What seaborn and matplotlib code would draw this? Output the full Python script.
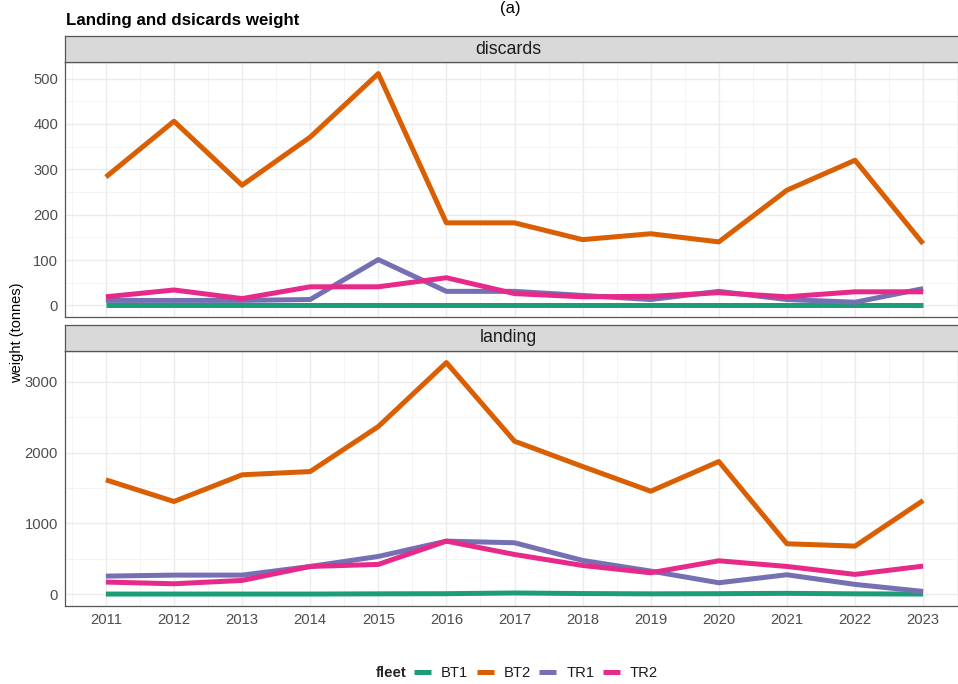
import numpy as np
import pandas as pd
import matplotlib
matplotlib.use("Agg")
import matplotlib.pyplot as plt
from matplotlib.lines import Line2D
import seaborn as sns

# ---- data -------------------------------------------------------------
years = list(range(2011, 2024))
fleets = ["BT1", "BT2", "TR1", "TR2"]

discards_bt1 = [1, 1, 1, 1, 1, 1, 1, 1, 1, 1, 1, 1, 1]
discards_bt2 = [283, 406, 265, 371, 511, 182, 182, 145, 158, 140, 254, 320, 136]
discards_tr1 = [11, 11, 11, 13, 101, 31, 31, 22, 13, 31, 13, 7, 37]
discards_tr2 = [19, 34, 15, 41, 41, 61, 26, 19, 20, 28, 19, 30, 30]

landing_bt1 = [5, 5, 5, 5, 8, 10, 20, 12, 8, 10, 15, 8, 5]
landing_bt2 = [1615, 1310, 1686, 1732, 2366, 3268, 2160, 1803, 1455, 1873, 714, 681, 1324]
landing_tr1 = [258, 272, 272, 394, 535, 751, 728, 479, 329, 164, 277, 141, 42]
landing_tr2 = [174, 150, 197, 394, 423, 751, 563, 408, 305, 474, 394, 282, 399]

facets = ["discards", "landing"]
y_ticks = {"discards": [0, 100, 200, 300, 400, 500],
           "landing": [0, 1000, 2000, 3000]}

palette = {"BT1": "#1B9E77", "BT2": "#D95F02", "TR1": "#7570B3", "TR2": "#E7298A"}

series = {
    "discards": [discards_bt1, discards_bt2, discards_tr1, discards_tr2],
    "landing": [landing_bt1, landing_bt2, landing_tr1, landing_tr2],
}
rows = []
for cat in facets:
    for fl, vals in zip(fleets, series[cat]):
        for yr, v in zip(years, vals):
            rows.append({"catch": cat, "fleet": fl, "year": yr, "weight": v})
df = pd.DataFrame(rows)

# ---- figure -----------------------------------------------------------
sns.set_style("white")
plt.rcParams["font.family"] = ["Liberation Sans", "DejaVu Sans"]

W, H = 958, 684
fig = plt.figure(figsize=(W / 100, H / 100), dpi=100)

def fx(px):
    return px / W

def fy(py):
    return 1 - py / H

# panels run past the right edge of the canvas
left_px, right_px = 65, 964
panels = {"discards": (62, 317, 36), "landing": (351, 606, 325)}
label_centre = (508 - left_px) / (right_px - left_px)

for cat in facets:
    top, bot, strip_top = panels[cat]
    ax = fig.add_axes([fx(left_px), fy(bot), fx(right_px - left_px), (bot - top) / H])
    sub = df[df["catch"] == cat]
    sns.lineplot(data=sub, x="year", y="weight", hue="fleet", hue_order=fleets,
                 palette=palette, linewidth=3.6, ax=ax, legend=False,
                 solid_capstyle="butt", solid_joinstyle="round")
    vmax = sub["weight"].max()
    ax.set_xlim(2010.4, 2023.6)
    ax.set_ylim(-0.05 * vmax, 1.05 * vmax)
    ax.set_xticks(years)
    ax.set_xticks(np.arange(2010.5, 2024, 1.0), minor=True)
    yt = y_ticks[cat]
    step = yt[1] - yt[0]
    ax.set_yticks(yt)
    ax.set_yticks(np.arange(-step / 2, 1.05 * vmax, step)[1:], minor=True)
    ax.grid(True, which="major", color="#EBEBEB", linewidth=1.0)
    ax.grid(True, which="minor", color="#F3F3F3", linewidth=0.6)
    ax.set_axisbelow(True)
    ax.set_xlabel("")
    ax.set_ylabel("")
    for s in ax.spines.values():
        s.set_color("#555555")
        s.set_linewidth(0.9)
    ax.tick_params(axis="both", which="major", length=3, width=0.8, color="#333333",
                   labelsize=10.6, labelcolor="#4D4D4D", pad=2)
    ax.tick_params(axis="both", which="minor", length=0)
    if cat == "discards":
        ax.set_xticklabels([])
        ax.tick_params(axis="x", which="major", length=0)
    # facet strip
    strip = fig.add_axes([fx(left_px), fy(top), fx(right_px - left_px),
                          (top - strip_top) / H])
    strip.set_xticks([])
    strip.set_yticks([])
    strip.set_facecolor("#D9D9D9")
    for s in strip.spines.values():
        s.set_color("#555555")
        s.set_linewidth(0.9)
    strip.text(label_centre, 0.5, cat, ha="center", va="center", fontsize=12.8,
               color="#1A1A1A", transform=strip.transAxes)

fig.text(fx(66), fy(20), "Landing and dsicards weight", fontsize=12.2,
         fontweight="bold", ha="left", va="center", color="black")
fig.text(fx(510), fy(1), "(a)", fontsize=12, ha="center", va="top", color="black")
fig.text(fx(17), fy(333), "weight (tonnes)", fontsize=10.5, rotation=90,
         ha="center", va="center", color="black")

# legend along the bottom
fig.text(fx(376), fy(673), "fleet", fontsize=10.8, fontweight="bold",
         ha="left", va="center")
handles = [Line2D([0], [0], color=palette[f], linewidth=3.6, solid_capstyle="butt")
           for f in fleets]
fig.legend(handles, fleets, ncol=4, loc="center left",
           bbox_to_anchor=(fx(414), fy(673)), frameon=False, fontsize=10.6,
           handlelength=1.15, handletextpad=0.7, columnspacing=0.55,
           borderpad=0, borderaxespad=0, labelcolor="#1A1A1A")

fig.savefig("out.png", dpi=100)
